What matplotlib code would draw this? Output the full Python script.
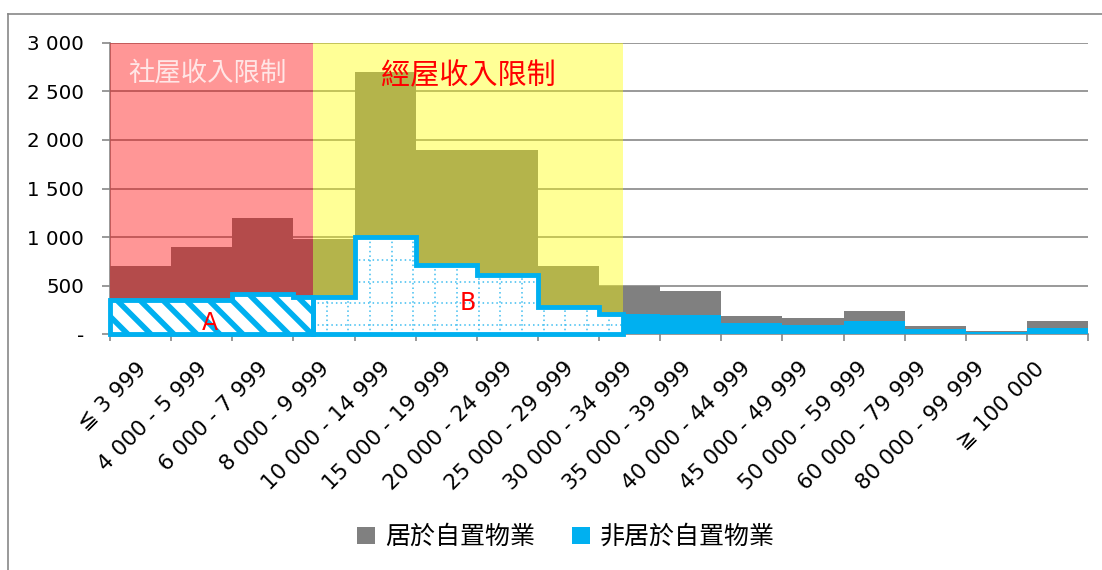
import numpy as np
import matplotlib
matplotlib.use('Agg')
import matplotlib.pyplot as plt
from matplotlib.patches import Polygon, Patch, Rectangle
from matplotlib.lines import Line2D
from matplotlib.transforms import ScaledTranslation

# income groups (monthly household income, HK$)
categories = ['≦ 3 999', '4 000 - 5 999', '6 000 - 7 999', '8 000 - 9 999',
              '10 000 - 14 999', '15 000 - 19 999', '20 000 - 24 999',
              '25 000 - 29 999', '30 000 - 34 999', '35 000 - 39 999',
              '40 000 - 44 999', '45 000 - 49 999', '50 000 - 59 999',
              '60 000 - 79 999', '80 000 - 99 999', '≧ 100 000']
owner = [700, 900, 1200, 980, 2700, 1900, 1900, 700, 500, 450,
         190, 170, 240, 85, 35, 140]
non_owner = [350, 350, 415, 380, 1000, 710, 615, 280, 205, 195,
             115, 95, 135, 50, 25, 65]
series_names = ['居於自置物業', '非居於自置物業']
ytick_vals = [0, 500, 1000, 1500, 2000, 2500, 3000]
ytick_text = ['-', '500', '1 000', '1 500', '2 000', '2 500', '3 000']

# income limits on the category axis
public_limit = 3.32
hos_limit = 8.39

GREY = '#808080'
BLUE = '#00B0F0'
LINE = '#878787'
CJK = ['Noto Sans CJK TC', 'DejaVu Sans']

plt.rcParams['font.family'] = ['DejaVu Sans', 'Noto Sans CJK TC']

W, H = 1102, 570
fig = plt.figure(figsize=(W / 100, H / 100), dpi=100)
ax = fig.add_axes([110 / W, 1 - 334.3 / H, 978 / W, (334.3 - 42.7) / H])

n = len(owner)
xs = np.arange(n + 1)
ax.set_xlim(0, n)
ax.set_ylim(0, 3000)

ax.fill_between(xs, np.append(owner, owner[-1]), step='post',
                color=GREY, lw=0, zorder=1)
ax.fill_between(xs, np.append(non_owner, non_owner[-1]), step='post',
                color=BLUE, lw=0, zorder=1.5)

# translucent limit bands
ax.add_patch(Rectangle((0, -25), public_limit, 3025, facecolor=(1, 0, 0, 0.41),
                       lw=0, zorder=2, clip_on=False))
ax.add_patch(Rectangle((public_limit, -25), hos_limit - public_limit, 3025,
                       facecolor=(1, 1, 0, 0.41), lw=0, zorder=2, clip_on=False))


def step_outline(vals, x0, x1):
    pts = [(x0, 0)]
    i = int(np.floor(x0))
    x = x0
    while x < x1 - 1e-9:
        nxt = min(i + 1, x1)
        pts += [(x, vals[i]), (nxt, vals[i])]
        x = nxt
        i += 1
    pts.append((x1, 0))
    return pts


p0 = ax.transData.transform((0, 0))
sx = ax.transData.transform((1, 0))[0] - p0[0]
sy = ax.transData.transform((0, 1))[1] - p0[1]

# region A: diagonal stripes
polyA = Polygon(step_outline(non_owner, 0, public_limit), closed=True,
                facecolor='white', edgecolor='none', zorder=3)
ax.add_patch(polyA)
for c in np.arange(-120, 320, 23.0):
    yp = np.array([-20, 80])
    xp = c - yp
    ln, = ax.plot(xp / sx, yp / sy, color=BLUE, lw=4.0, solid_capstyle='butt',
                  zorder=3.1)
    ln.set_clip_path(polyA)

# region B: dotted grid
polyB = Polygon(step_outline(non_owner, public_limit, hos_limit), closed=True,
                facecolor='white', edgecolor='none', zorder=3)
ax.add_patch(polyB)
for xp in np.arange(216.7 - 21.7 * 2, 530, 21.7):
    ln, = ax.plot([xp / sx] * 2, [-100, 1200], color='#3DBDF0', lw=1.1,
                  ls=(0, (1, 2)), zorder=3.1)
    ln.set_clip_path(polyB)
for yp in np.arange(9.3, 110, 21.7):
    ln, = ax.plot([public_limit, hos_limit], [yp / sy] * 2, color='#3DBDF0',
                  lw=1.1, ls=(0, (1, 2)), zorder=3.1)
    ln.set_clip_path(polyB)

for pts in (polyA.get_xy(), polyB.get_xy()):
    ax.add_patch(Polygon(pts, closed=True, fill=False, edgecolor=BLUE, lw=3.5,
                         joinstyle='miter', zorder=3.5, clip_on=False))

ax.text(1.6, 2686, '社屋收入限制', color='#FFE6E6', fontsize=19, family=CJK,
        ha='center', va='center', zorder=4)
ax.text(5.86, 2651, '經屋收入限制', color='#FF0000', fontsize=21, family=CJK,
        ha='center', va='center', zorder=4)
ax.text(1.63, 121, 'A', color='#FF0000', fontsize=17, ha='center', va='center',
        zorder=5)
ax.text(5.85, 324, 'B', color='#FF0000', fontsize=17, ha='center', va='center',
        zorder=5)

# axes styling
for s in ('top', 'right'):
    ax.spines[s].set_visible(False)
for s in ('left', 'bottom'):
    ax.spines[s].set_color(LINE)
    ax.spines[s].set_linewidth(1.2)
    ax.spines[s].set_zorder(0.8)
ax.set_axisbelow(True)
ax.yaxis.grid(True, color=LINE, lw=1.2)

ax.set_yticks(ytick_vals)
ax.set_yticklabels(ytick_text)
ax.tick_params(axis='y', length=5.5, width=1.2, color=LINE, pad=13,
               labelsize=14.3)
ax.set_xticks(xs)
ax.set_xticklabels([])
ax.tick_params(axis='x', length=5, width=1.2, color=LINE)

for i, lab in enumerate(categories):
    dx = 33 if i <= 7 else 33 - 2.4 * (i - 7)
    off = ScaledTranslation(dx / 100, -31 / 100, fig.dpi_scale_trans)
    ax.text(i, 0, lab, transform=ax.get_xaxis_transform() + off, rotation=45,
            rotation_mode='anchor', ha='right', va='center', fontsize=15.5)

handles = [Patch(facecolor=GREY, edgecolor='none'),
           Patch(facecolor=BLUE, edgecolor='none')]
fig.legend(handles, series_names, loc='center', bbox_to_anchor=(566 / W, 1 - 537 / H),
           ncol=2, frameon=False, prop={'family': CJK, 'size': 18},
           handlelength=0.7, handleheight=0.7, handletextpad=0.4,
           columnspacing=1.5, borderpad=0)

# chart frame (left and top edges)
fig.add_artist(Line2D([8 / W, 8 / W], [0, 1 - 14 / H], color=LINE, lw=1.2,
                      transform=fig.transFigure))
fig.add_artist(Line2D([8 / W, 1], [1 - 14 / H, 1 - 14 / H], color=LINE, lw=1.2,
                      transform=fig.transFigure))

fig.savefig('out.png', dpi=100)
